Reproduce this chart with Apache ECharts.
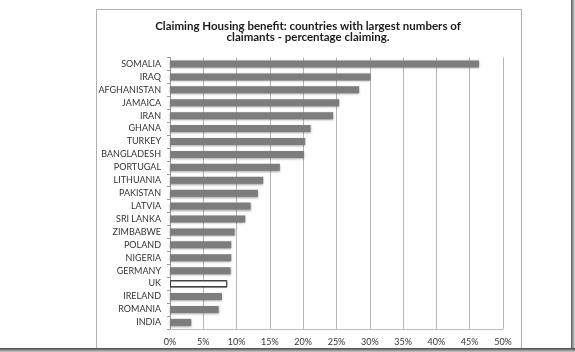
<!DOCTYPE html>
<html lang="en">
<head>
    <meta charset="UTF-8">
    <title>Claiming Housing benefit</title>
    <script src="https://cdn.jsdelivr.net/npm/echarts@6/dist/echarts.min.js"></script>
    <style>
        html, body { margin: 0; padding: 0; background: #fff; }
    </style>
</head>
<body>
    <div id="main" style="width: 575px;height: 352px"></div>
    <script type="application/javascript">
        // countries, top to bottom as in the chart
        var countries = ['SOMALIA', 'IRAQ', 'AFGHANISTAN', 'JAMAICA', 'IRAN', 'GHANA', 'TURKEY',
            'BANGLADESH', 'PORTUGAL', 'LITHUANIA', 'PAKISTAN', 'LATVIA', 'SRI LANKA', 'ZIMBABWE',
            'POLAND', 'NIGERIA', 'GERMANY', 'UK', 'IRELAND', 'ROMANIA', 'INDIA'];
        // percentage claiming
        var pctClaiming = [46.4, 30.1, 28.4, 25.4, 24.5, 21.1, 20.3,
            20.1, 16.5, 14.0, 13.2, 12.1, 11.3, 9.7,
            9.2, 9.2, 9.1, 8.6, 7.8, 7.3, 3.2];
        var xTicks = [0, 5, 10, 15, 20, 25, 30, 35, 40, 45, 50];
        var highlight = 'UK';

        var myChart = echarts.init(document.getElementById('main'));

        var barData = [];
        for (var i = 0; i < countries.length; i++) {
            if (countries[i] === highlight) {
                barData.push({
                    value: pctClaiming[i],
                    itemStyle: { color: '#fff', borderColor: '#333', borderWidth: 1, shadowBlur: 0 }
                });
            } else {
                barData.push(pctClaiming[i]);
            }
        }

        var font = 'Lato, "Open Sans", sans-serif';

        var option = {
            animation: false,
            backgroundColor: '#fff',
            title: {
                text: 'Claiming Housing benefit: countries with largest numbers of\nclaimants - percentage claiming.',
                left: 303,
                textAlign: 'center',
                top: 16,
                textStyle: {
                    fontFamily: font,
                    fontSize: 11.5,
                    fontWeight: 'bold',
                    color: '#1a1a1a',
                    lineHeight: 11
                }
            },
            grid: {
                left: 170,
                right: 72,
                top: 57.5,
                bottom: 23.2,
                containLabel: false
            },
            xAxis: {
                type: 'value',
                min: xTicks[0],
                max: xTicks[xTicks.length - 1],
                interval: 5,
                axisLine: { show: true, lineStyle: { color: '#bbb' } },
                axisTick: { show: false },
                axisLabel: {
                    formatter: '{value}%',
                    fontFamily: font,
                    fontSize: 9,
                    color: '#333',
                    margin: 9
                },
                splitLine: { show: true, lineStyle: { color: '#b5b5b5', width: 1 } }
            },
            yAxis: {
                type: 'category',
                data: countries,
                inverse: true,
                axisLine: { show: true, lineStyle: { color: '#999' } },
                axisTick: { show: true, length: 3, lineStyle: { color: '#999' } },
                axisLabel: {
                    fontFamily: font,
                    fontSize: 9,
                    color: '#333',
                    margin: 9
                }
            },
            series: [{
                type: 'bar',
                data: barData,
                barWidth: 7,
                itemStyle: {
                    color: '#7d7d7d',
                    shadowColor: 'rgba(0,0,0,0.35)',
                    shadowBlur: 2,
                    shadowOffsetY: 1
                }
            }],
            graphic: [
                // chart frame
                { type: 'polyline', shape: { points: [[96.5, 349], [96.5, 9.5], [521.5, 9.5], [521.5, 349]] },
                  style: { stroke: '#b0b0b0', fill: null, lineWidth: 1 }, silent: true },
                // page edge shadow
                { type: 'rect', shape: { x: 571, y: 0, width: 4, height: 352 },
                  style: { fill: new echarts.graphic.LinearGradient(0, 0, 1, 0, [
                      { offset: 0, color: '#555' }, { offset: 1, color: '#ddd' }]) }, silent: true },
                { type: 'rect', shape: { x: 0, y: 348, width: 575, height: 4 },
                  style: { fill: new echarts.graphic.LinearGradient(0, 0, 0, 1, [
                      { offset: 0, color: '#444' }, { offset: 1, color: '#ccc' }]) }, silent: true }
            ]
        };

        myChart.setOption(option, true);
    </script>
</body>
</html>
